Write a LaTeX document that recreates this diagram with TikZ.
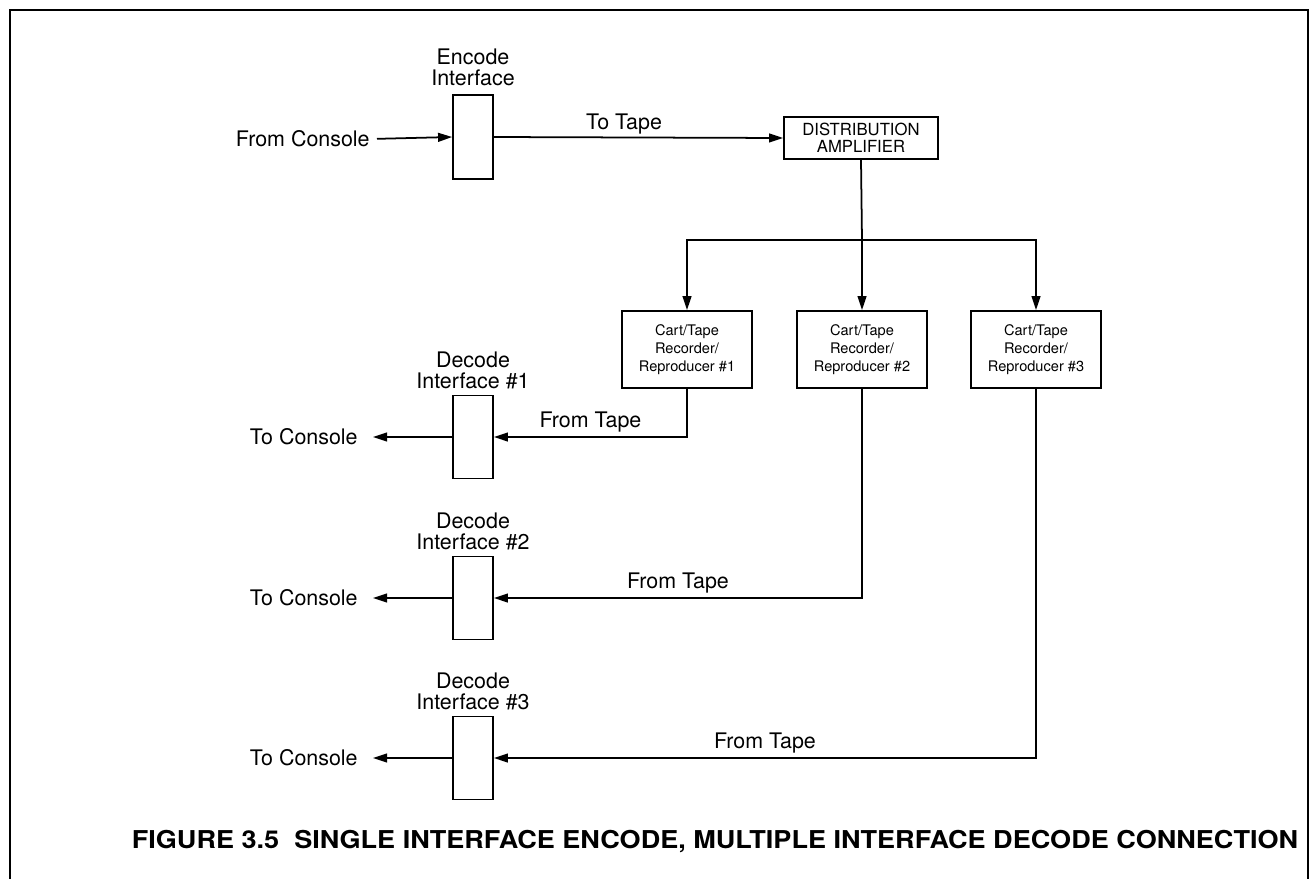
\documentclass[tikz,border=0pt]{standalone}
\usepackage{fontspec}
\setmainfont{TeX Gyre Heros}
\usetikzlibrary{arrows.meta,positioning}

\tikzset{
  blk/.style={draw, line width=1pt, inner sep=0pt},
  iface/.style={blk, minimum width=0.8cm, minimum height=1.66cm},
  cart/.style={blk, minimum width=2.6cm, minimum height=1.54cm, align=center,
    font=\fontsize{8.3}{10.4}\selectfont},
  lbl/.style={align=center, inner sep=0pt, font=\fontsize{12.2}{12.2}\selectfont},
  sig/.style={line width=1pt, -{Triangle[length=8pt,width=5pt]}},
  wire/.style={line width=1pt},
}

\begin{document}
\begin{tikzpicture}[x=0.02cm, y=-0.02cm]
  \useasboundingbox (0,0) rectangle (1312,879);
  \draw[line width=1.3pt] (10,879) -- (10,10) -- (1308,10) -- (1308,879); % frame

  % encode side
  \node[iface, minimum height=1.68cm] (enc) at (473,137) {};
  \node[lbl, above=0.16cm of enc] (encl) {Encode\\Interface};
  \node[lbl, anchor=east] (fcon) at (370,139) {From Console};
  \node[blk, minimum width=3.08cm, minimum height=0.84cm, align=center,
    font=\fontsize{9.5}{9.6}\selectfont] (amp) at (861,138) {DISTRIBUTION\\AMPLIFIER};

  \draw[sig, shorten <=0.14cm] (fcon.east) -- (enc.west);
  \draw[sig] (enc.east) -- node[lbl, above=1.5pt, pos=0.45] {To Tape} (amp.west);

  % recorders
  \node[cart] (rec1) at (687,349.5) {Cart/Tape\\Recorder/\\Reproducer \#1};
  \node[cart] (rec2) at (862,349.5) {Cart/Tape\\Recorder/\\Reproducer \#2};
  \node[cart] (rec3) at (1036,349.5) {Cart/Tape\\Recorder/\\Reproducer \#3};

  \coordinate (split) at (862,240);
  \draw[wire] (amp.south) -- (split);
  \draw[sig] (split) -| (rec1.north);
  \draw[sig] (split) -- (rec2.north);
  \draw[sig] (split) -| (rec3.north);

  % decode side
  \node[iface] (dec1) at (473,437) {};
  \node[iface] (dec2) at (473,598) {};
  \node[iface] (dec3) at (473,758) {};
  \node[lbl, above=0.1cm of dec1] (decl1) {Decode\\Interface \#1};
  \node[lbl, above=0.1cm of dec2] (decl2) {Decode\\Interface \#2};
  \node[lbl, above=0.1cm of dec3] (decl3) {Decode\\Interface \#3};

  \node[lbl, anchor=east] (tcon1) at (358,437) {To Console};
  \node[lbl, anchor=east] (tcon2) at (358,598) {To Console};
  \node[lbl, anchor=east] (tcon3) at (358,758) {To Console};

  \draw[sig] (rec1.south) |- node[lbl, above=2pt, pos=0.75] {From Tape} (dec1.east);
  \draw[sig] (rec2.south) |- node[lbl, above=2pt, pos=0.75] {From Tape} (dec2.east);
  \draw[sig] (rec3.south) |- node[lbl, above=2pt, pos=0.75] {From Tape} (dec3.east);

  \draw[sig, shorten >=0.3cm] (dec1.west) -- (tcon1.east);
  \draw[sig, shorten >=0.3cm] (dec2.west) -- (tcon2.east);
  \draw[sig, shorten >=0.3cm] (dec3.west) -- (tcon3.east);

  \node[font=\bfseries\fontsize{14}{16}\selectfont] (cap) at (715,842)
    {\scalebox{1.1}[1]{FIGURE 3.5\ \ SINGLE INTERFACE ENCODE, MULTIPLE INTERFACE DECODE CONNECTION}};
\end{tikzpicture}
\end{document}
